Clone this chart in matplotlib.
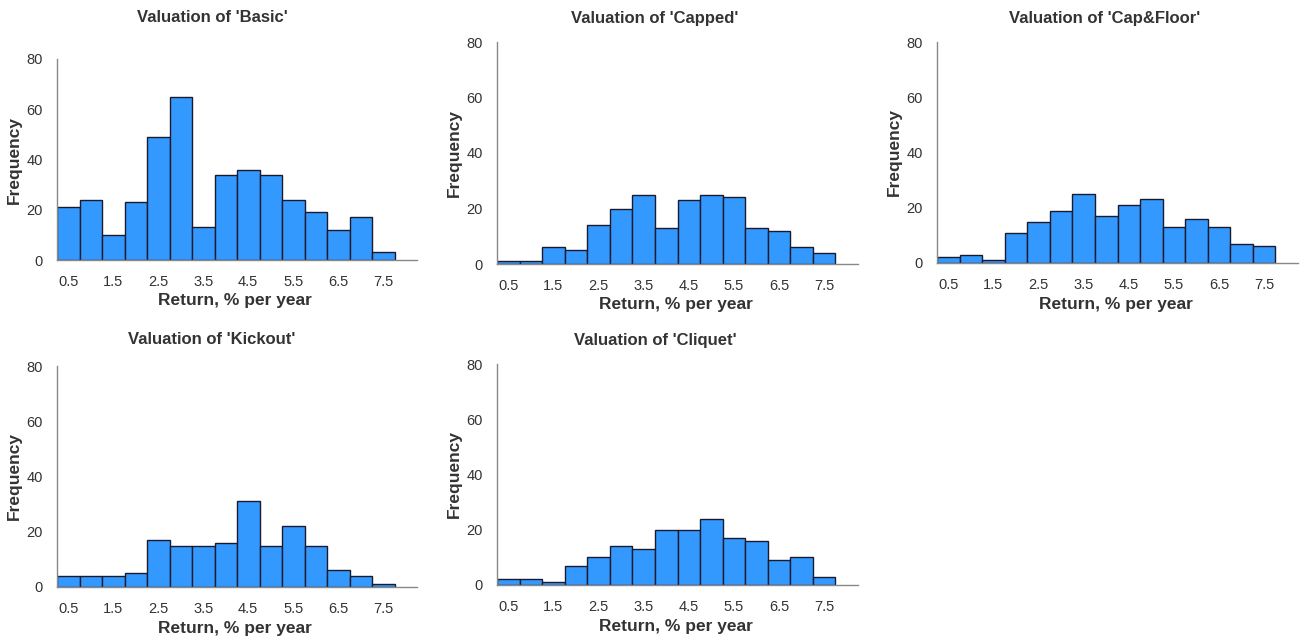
import matplotlib.pyplot as plt

plt.rcParams['font.family'] = ['Liberation Sans', 'DejaVu Sans']

# bin centres, % per year (bins are 0.5 wide)
bin_centres = [0.5, 1.0, 1.5, 2.0, 2.5, 3.0, 3.5, 4.0, 4.5, 5.0, 5.5, 6.0, 6.5, 7.0, 7.5]
tick_values = [0.5, 1.5, 2.5, 3.5, 4.5, 5.5, 6.5, 7.5]

basic = [21, 24, 10, 23, 49, 65, 13, 34, 36, 34, 24, 19, 12, 17, 3]
capped = [1, 1, 6, 5, 14, 20, 25, 13, 23, 25, 24, 13, 12, 6, 4]
cap_floor = [2, 3, 1, 11, 15, 19, 25, 17, 21, 23, 13, 16, 13, 7, 6]
kickout = [4, 4, 4, 5, 17, 15, 15, 16, 31, 15, 22, 15, 6, 4, 1]
cliquet = [2, 2, 1, 7, 10, 14, 13, 20, 20, 24, 17, 16, 9, 10, 3]

names = ['Basic', 'Capped', 'Cap&Floor', 'Kickout', 'Cliquet']
series = [basic, capped, cap_floor, kickout, cliquet]

W, H = 1304, 640
fig = plt.figure(figsize=(W / 100, H / 100), dpi=100)

# axes boxes in pixels: left, right, top, bottom
boxes = [(57, 417, 59, 260), (497, 858, 42, 264), (937, 1298, 42, 263),
         (57, 417, 366, 587), (497, 858, 364, 585)]
# title centre x, title y, xlabel y
title_pos = [(212, 18), (655, 18), (1105, 18), (212, 340), (655, 340)]
xlabel_y = [301, 305, 305, 628, 626]

for i in range(5):
    l, r, t, b = boxes[i]
    ax = fig.add_axes([l / W, 1 - b / H, (r - l) / W, (b - t) / H])
    ax.bar(bin_centres, series[i], width=0.5, color='#3399ff',
           edgecolor='#1a1a2e', linewidth=1.0)
    ax.set_xlim(0.25, 8.25)
    ax.set_ylim(0, 80)
    ax.set_xticks(tick_values)
    ax.set_xticklabels([str(v) for v in tick_values])
    ax.set_yticks([0, 20, 40, 60, 80])
    ax.tick_params(length=0, labelsize=10.5, labelcolor='#333333')
    ax.tick_params(axis='x', pad=11)
    ax.tick_params(axis='y', pad=10)
    for s in ['top', 'right']:
        ax.spines[s].set_visible(False)
    for s in ['left', 'bottom']:
        ax.spines[s].set_color('#888888')
        ax.spines[s].set_linewidth(1.0)
    ax.set_ylabel('Frequency', fontsize=12.5, fontweight='bold', color='#333333')
    ax.yaxis.set_label_coords(-35 / (r - l), 0.5)

    tx, ty = title_pos[i]
    fig.text(tx / W, 1 - ty / H, f"Valuation of '{names[i]}'", ha='center',
             va='center', fontsize=12, fontweight='bold', color='#333333')
    fig.text((l + r) / 2 / W - 2 / W, 1 - xlabel_y[i] / H, 'Return, % per year',
             ha='center', va='center', fontsize=12.5, fontweight='bold',
             color='#333333')

plt.savefig('out.png', dpi=100)
